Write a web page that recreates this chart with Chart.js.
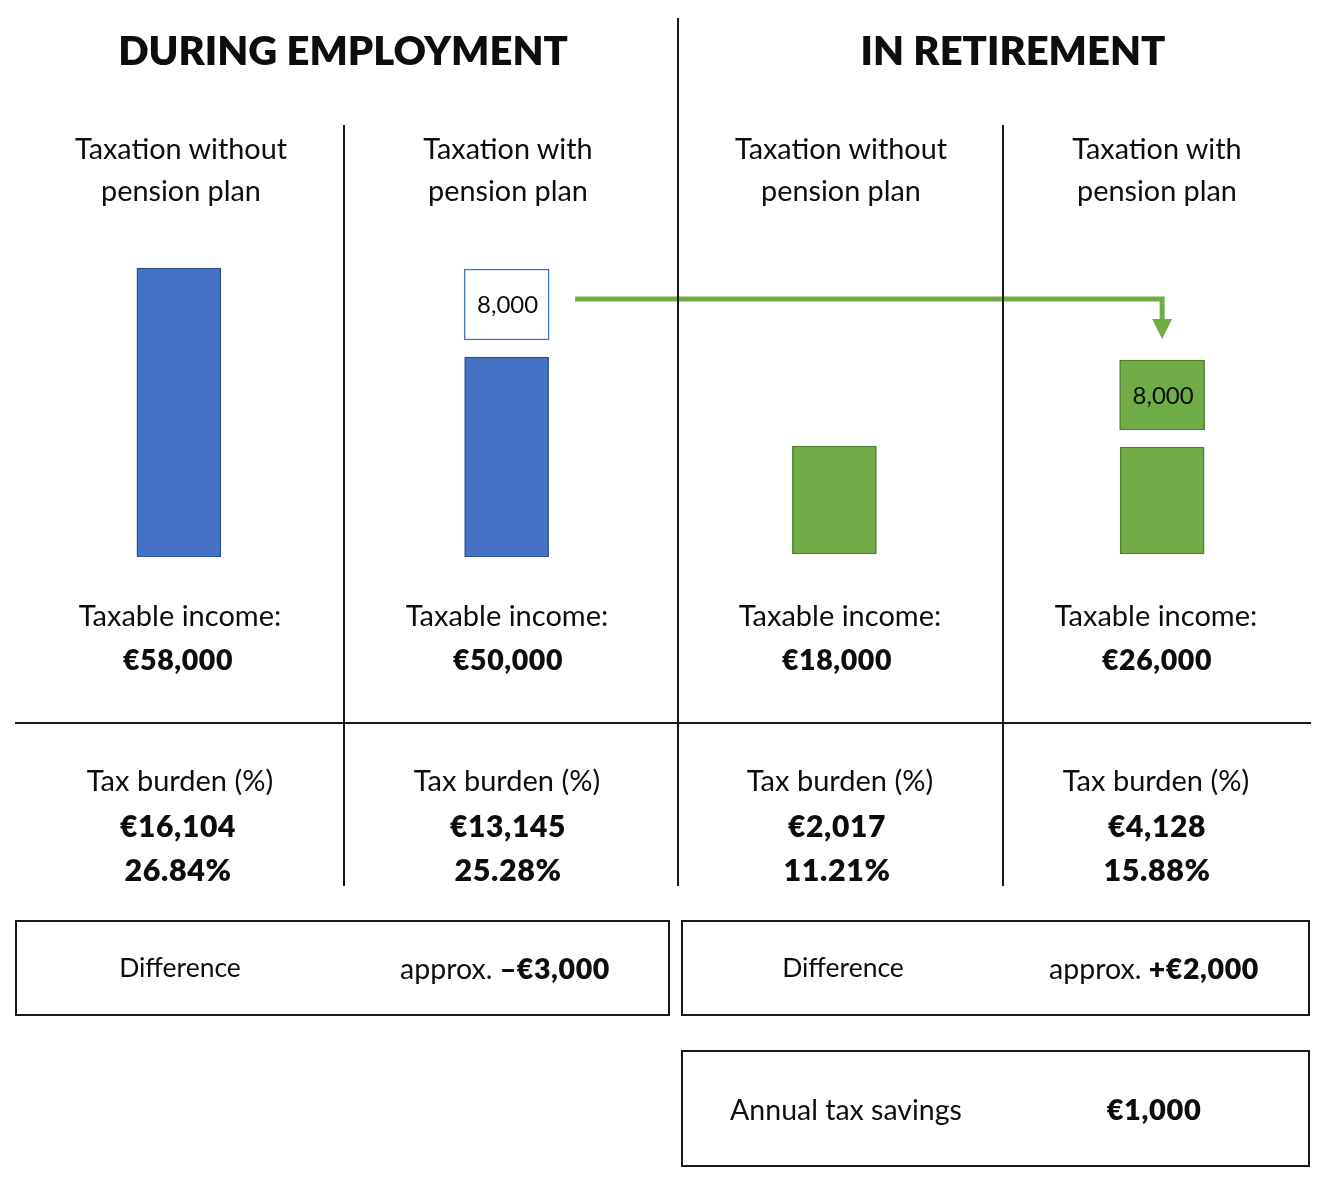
<!DOCTYPE html>
<html>
<head>
<meta charset="utf-8">
<script src="https://cdn.jsdelivr.net/npm/chart.js@4.4.1/dist/chart.umd.min.js"></script>
<style>
  html, body { margin: 0; padding: 0; background: #fff; }
  #wrap { position: relative; width: 1327px; height: 1186px; overflow: hidden; background: #fff; font-family: Lato, "Open Sans", sans-serif; color: #0d0d0d; }
  #c { position: absolute; left: 0; top: 0; }
  .t { position: absolute; white-space: nowrap; text-align: center; width: 800px; pointer-events: none; }
  .b { font-weight: 800; }
  .v { font-weight: 800; letter-spacing: 0.6px; }
  .ln { position: absolute; background: #1a1a1a; }
  .box { position: absolute; border: 2px solid #1a1a1a; box-sizing: border-box; }
</style>
</head>
<body>
<div id="wrap">
  <canvas id="c" width="1327" height="1186"></canvas>
</div>
<script>
// ---- data ----
const sections = ['DURING EMPLOYMENT', 'IN RETIREMENT'];
const categories = ['Taxation without\npension plan', 'Taxation with\npension plan', 'Taxation without\npension plan', 'Taxation with\npension plan'];
const taxableIncome = [58000, 50000, 18000, 26000];
const pensionContribution = [null, 8000, null, 8000];
const taxAmount = [16104, 13145, 2017, 4128];
const taxRate = [26.84, 25.28, 11.21, 15.88];
const differenceLabels = ['approx. ', 'approx. '];
const differenceValues = ['–€3,000', '+€2,000'];
const annualSavings = '€1,000';
// schematic bar extents as drawn in the picture (visual units)
const incomeBarRange = [[0, 57.8], [0, 40], [0.6, 22.2], [0.6, 22]];
const pensionBoxRange = [null, [43.4, 57.6], null, [25.4, 39.4]];

const BLUE = '#4472C4', BLUE_D = '#2F528F', GREEN = '#70AD47', GREEN_D = '#507E32';
const barColors = [BLUE, BLUE, GREEN, GREEN];
const barBorders = [BLUE_D, BLUE_D, GREEN_D, GREEN_D];
const boxColors = [null, '#ffffff', null, GREEN];
const boxBorders = [null, BLUE, null, GREEN_D];

const fmt = v => '€' + v.toLocaleString('en-US');

const wrap = document.getElementById('wrap');
function txt(html, cx, cy, size, cls) {
  const d = document.createElement('div');
  d.className = 't' + (cls ? ' ' + cls : '');
  d.style.fontSize = size + 'px';
  d.style.lineHeight = (size * 1.2) + 'px';
  d.style.left = (cx - 400) + 'px';
  d.style.top = (cy - size * 0.6 - 1) + 'px';
  d.innerHTML = html;
  wrap.appendChild(d);
  return d;
}
function line(x, y, w, h) {
  const d = document.createElement('div');
  d.className = 'ln';
  Object.assign(d.style, { left: x + 'px', top: y + 'px', width: w + 'px', height: h + 'px' });
  wrap.appendChild(d);
}
function box(x, y, w, h) {
  const d = document.createElement('div');
  d.className = 'box';
  Object.assign(d.style, { left: x + 'px', top: y + 'px', width: w + 'px', height: h + 'px' });
  wrap.appendChild(d);
}

// structure lines
line(677, 18, 2, 868);
line(343, 125, 2, 761);
line(1002, 125, 2, 761);
line(15, 722, 1296, 2);
box(15, 920, 655, 96);
box(681, 920, 629, 96);
box(681, 1050, 629, 117);

// titles
txt(sections[0], 343, 51, 40, 'b');
txt(sections[1], 1013, 51, 40, 'b');

const colCenters = [181, 508, 841, 1157];
const valCenters = [178, 508, 837, 1157];
categories.forEach((c, i) => {
  const parts = c.split('\n');
  txt(parts[0], colCenters[i], 149, 28.8);
  txt(parts[1], colCenters[i], 191, 28.8);
  txt('Taxable income:', colCenters[i] - 1, 616, 29);
  txt(fmt(taxableIncome[i]), valCenters[i], 660, 28.5, 'v');
  txt('Tax burden (%)', colCenters[i] - 1, 781, 29);
  txt(fmt(taxAmount[i]), valCenters[i], 826, 30, 'v');
  txt(taxRate[i].toFixed(2) + '%', valCenters[i], 870, 30.5, 'v');
});

txt('Difference', 180, 969, 26.5);
txt(differenceLabels[0] + '<b class="v">' + differenceValues[0] + '</b>', 505, 969, 28.5);
txt('Difference', 843, 969, 26.5);
txt(differenceLabels[1] + '<b class="v">' + differenceValues[1] + '</b>', 1154, 969, 28.5);
txt('Annual tax savings', 846, 1110, 28.5);
txt('<b class="v">' + annualSavings + '</b>', 1154, 1110, 29);

// arrow plugin
const arrowPlugin = {
  id: 'arrow',
  afterDatasetsDraw(chart) {
    const ctx = chart.ctx;
    const meta = chart.getDatasetMeta(1);
    const from = meta.data[1], to = meta.data[3];
    const sx = from.x + from.width / 2 + 26;
    const sy = from.y + 30;
    const ex = to.x;
    const tipY = to.y - 21;
    ctx.save();
    ctx.strokeStyle = GREEN;
    ctx.fillStyle = GREEN;
    ctx.lineWidth = 5;
    ctx.lineJoin = 'miter';
    ctx.beginPath();
    ctx.moveTo(sx, sy);
    ctx.lineTo(ex, sy);
    ctx.lineTo(ex, tipY - 18);
    ctx.stroke();
    ctx.beginPath();
    ctx.moveTo(ex - 10, tipY - 20);
    ctx.lineTo(ex + 10, tipY - 20);
    ctx.lineTo(ex, tipY);
    ctx.closePath();
    ctx.fill();
    ctx.restore();
  }
};

const chart = new Chart(document.getElementById('c'), {
  type: 'bar',
  data: {
    labels: categories,
    datasets: [
      {
        label: 'Taxable income',
        data: incomeBarRange,
        backgroundColor: barColors,
        borderColor: barBorders,
        borderWidth: 1.5,
        borderSkipped: false,
        barThickness: 84,
        grouped: false
      },
      {
        label: 'Pension contribution',
        data: pensionBoxRange,
        backgroundColor: boxColors,
        borderColor: boxBorders,
        borderWidth: 1.5,
        borderSkipped: false,
        barThickness: 85,
        grouped: false
      }
    ]
  },
  options: {
    responsive: false,
    animation: false,
    layout: { padding: { left: 15, right: 1, top: 257, bottom: 629 } },
    plugins: { legend: { display: false }, tooltip: { enabled: false } },
    scales: {
      x: { display: false },
      y: { display: false, min: 0, max: 60 }
    }
  },
  plugins: [arrowPlugin]
});

// labels inside the pension boxes, positioned from the chart's elements
const m = chart.getDatasetMeta(1);
pensionContribution.forEach((v, i) => {
  if (v == null) return;
  const el = m.data[i];
  const cy = (el.y + el.base) / 2;
  txt(v.toLocaleString('en-US'), el.x + 1, cy + 1, 24);
});
</script>
</body>
</html>
